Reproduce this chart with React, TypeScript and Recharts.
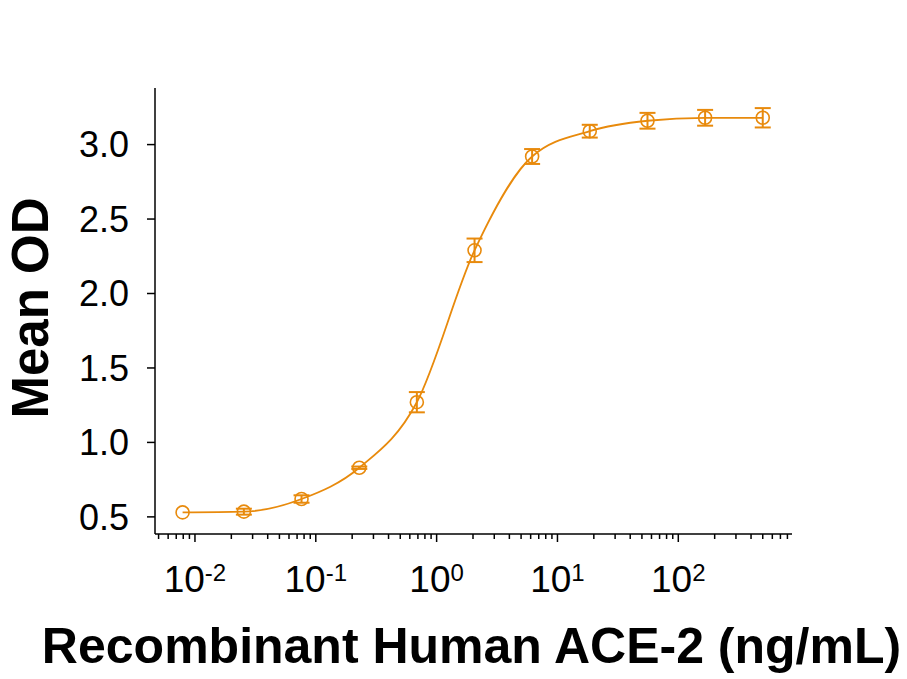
import React from 'react';
import { ComposedChart, Line, XAxis, YAxis, ErrorBar, Label } from 'recharts';

const FONT = '"Liberation Sans", Arial, sans-serif';
const ORANGE = '#E88A0C';

// 3-fold dilution series (ng/mL) with mean OD and error
const concentrations = [0.0079, 0.0254, 0.0762, 0.229, 0.686, 2.06, 6.17, 18.5, 55.6, 166.7, 500];
const meanOD = [0.53, 0.535, 0.62, 0.83, 1.27, 2.29, 2.92, 3.09, 3.16, 3.18, 3.18];
const odError = [0, 0.02, 0.025, 0.008, 0.068, 0.079, 0.05, 0.043, 0.053, 0.053, 0.065];

const yTicks = [0.5, 1.0, 1.5, 2.0, 2.5, 3.0];
const decades = [-3, -2, -1, 0, 1, 2];
const mantissas = [1, 2, 3, 4, 5, 6, 7, 8, 9];

const X_DOMAIN: [number, number] = [0.00467, 873];
const Y_DOMAIN: [number, number] = [0.385, 3.38];

const xTicks = decades
  .flatMap((d) => mantissas.map((m) => Number((m * Math.pow(10, d)).toPrecision(3))))
  .filter((v) => v >= X_DOMAIN[0] && v <= X_DOMAIN[1]);

const data = concentrations.map((conc, i) => ({
  conc,
  od: meanOD[i],
  err: odError[i],
}));

const LogTick = ({ x, y, payload }: any) => {
  const lg = Math.log10(payload.value);
  const exp = Math.round(lg);
  const major = Math.abs(lg - exp) < 1e-6;
  return (
    <g>
      <line x1={x} x2={x} y1={y} y2={y + (major ? 8 : 5)} stroke="#000" strokeWidth={1.5} />
      {major && (
        <text x={x} y={y + 58} textAnchor="middle" fontFamily={FONT} fontSize={37} fill="#000">
          <tspan>10</tspan>
          <tspan dy={-11} fontSize={24}>{exp}</tspan>
        </text>
      )}
    </g>
  );
};

const XTitle = ({ viewBox }: any) => (
  <text
    x={viewBox.x + viewBox.width / 2 - 2}
    y={viewBox.y + 129}
    textAnchor="middle"
    fontFamily={FONT}
    fontWeight="bold"
    fontSize={50}
    fill="#000"
  >
    Recombinant Human ACE-2 (ng/mL)
  </text>
);

const YTitle = ({ viewBox }: any) => {
  const cx = viewBox.x + 48;
  const cy = viewBox.y + viewBox.height / 2 - 3;
  return (
    <text
      x={cx}
      y={cy}
      transform={`rotate(-90 ${cx} ${cy})`}
      textAnchor="middle"
      fontFamily={FONT}
      fontWeight="bold"
      fontSize={51}
      fill="#000"
    >
      Mean OD
    </text>
  );
};

export default function App() {
  return (
    <div style={{ position: 'absolute', left: 0, top: 0, width: 907, height: 679, background: '#fff' }}>
      <ComposedChart width={907} height={679} data={data} margin={{ top: 88, right: 115, left: 0, bottom: 0 }}>
        <XAxis
          dataKey="conc"
          type="number"
          scale="log"
          domain={X_DOMAIN}
          allowDataOverflow
          ticks={xTicks}
          interval={0}
          tick={<LogTick />}
          tickLine={false}
          tickSize={0}
          tickMargin={0}
          height={145}
          axisLine={{ stroke: '#000', strokeWidth: 1.5 }}
        >
          <Label content={<XTitle />} />
        </XAxis>
        <YAxis
          type="number"
          domain={Y_DOMAIN}
          allowDataOverflow
          ticks={yTicks}
          interval={0}
          tickFormatter={(v: number) => v.toFixed(1)}
          tickSize={8}
          tickMargin={18}
          width={155}
          axisLine={{ stroke: '#000', strokeWidth: 1.5 }}
          tickLine={{ stroke: '#000', strokeWidth: 1.5 }}
          tick={{ fontSize: 36, fill: '#000', fontFamily: FONT }}
        >
          <Label content={<YTitle />} />
        </YAxis>
        <Line
          dataKey="od"
          type="monotone"
          stroke={ORANGE}
          strokeWidth={1.8}
          dot={{ r: 6.5, stroke: ORANGE, strokeWidth: 1.6, fill: 'none' }}
          activeDot={false}
          isAnimationActive={false}
        >
          <ErrorBar dataKey="err" direction="y" width={8} stroke={ORANGE} strokeWidth={2} isAnimationActive={false} />
        </Line>
      </ComposedChart>
    </div>
  );
}
